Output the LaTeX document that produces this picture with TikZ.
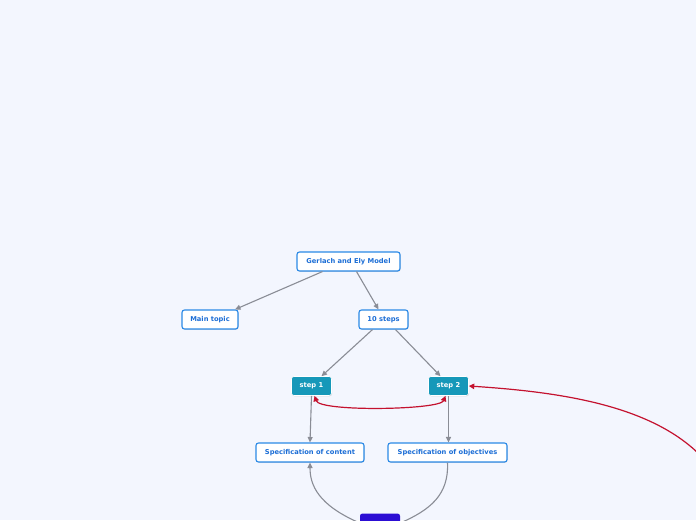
\documentclass[tikz,border=0pt]{standalone}
\usepackage{fontspec}
\setmainfont{DejaVu Sans}
\usetikzlibrary{arrows.meta,shadows}
\definecolor{bg}{HTML}{F3F6FE}
\definecolor{txtblue}{HTML}{1C6ED6}
\definecolor{bordblue}{HTML}{2A89E6}
\definecolor{tealf}{HTML}{1698B9}
\definecolor{deepblue}{HTML}{2C0ED4}
\definecolor{redc}{HTML}{C4122F}
\definecolor{grayc}{HTML}{8A8D96}
\tikzset{
  topic/.style={draw=bordblue, line width=1.1pt, fill=white, rounded corners=2.5pt,
    text=txtblue, font=\fontsize{6.7}{7}\selectfont\bfseries, inner sep=0pt,
    minimum height=19pt, drop shadow={shadow xshift=0.6pt, shadow yshift=-0.8pt, opacity=0.25}},
  stepbox/.style={draw=white, line width=0.6pt, fill=tealf, rounded corners=2.5pt,
    text=white, font=\fontsize{6.7}{7}\selectfont\bfseries, inner sep=0pt,
    minimum width=40pt, minimum height=19pt, drop shadow={shadow xshift=0.6pt, shadow yshift=-0.8pt, opacity=0.25}},
  conn/.style={draw=grayc, line width=1.1pt, -{Triangle[length=5.5pt,width=5pt]}},
  redconn/.style={draw=redc, line width=1.2pt},
}
\begin{document}
\begin{tikzpicture}[x=1pt,y=-1pt]
\fill[bg] (0,0) rectangle (696,520);
\useasboundingbox (0,0) rectangle (696,520);
\node[topic, minimum width=103pt] (gem) at (348.5,261.5) {Gerlach and Ely Model};
\node[topic, minimum width=56pt] (main) at (210,319.5) {Main topic};
\node[topic, minimum width=49pt] (ten) at (383.5,319.5) {10 steps};
\node[stepbox] (s1) at (311.5,386) {step 1};
\node[stepbox] (s2) at (448.5,386) {step 2};
\node[topic, minimum width=108pt] (sc) at (310,452.5) {Specification of content};
\node[topic, minimum width=119pt] (so) at (447.5,452.5) {Specification of objectives};
\node[draw=none, fill=deepblue, rounded corners=2.5pt, minimum width=40pt, minimum height=19pt, inner sep=0pt] (bb) at (380,523) {};
\coordinate (offr) at (700,455);

\draw[conn] ([xshift=-26pt]gem.south) -- ([xshift=25pt]main.north);
\draw[conn] ([xshift=8pt]gem.south) -- ([xshift=-5pt]ten.north);
\draw[conn] ([xshift=-11pt]ten.south) -- ([xshift=10pt]s1.north);
\draw[conn] ([xshift=12pt]ten.south) -- ([xshift=-8pt]s2.north);
\draw[conn] (s1.south) -- (sc.north);
\draw[conn] (s2.south) -- ([xshift=1pt]so.north);
\draw[conn] (bb.west) .. controls (318,505) and (310,485) .. (sc.south);
\draw[draw=grayc, line width=1.1pt] (so.south) .. controls (449,495) and (430,510) .. (bb.east);
\draw[redconn, {Triangle[length=5.5pt,width=5.5pt]}-{Triangle[length=5.5pt,width=5.5pt]}] ([xshift=3pt]s1.south) .. controls (320,412) and (440,410) .. ([xshift=-3pt]s2.south);
\draw[redconn, -{Triangle[length=5.5pt,width=5.5pt]}] (offr) .. controls (650,405) and (560,392) .. (s2.east);
\end{tikzpicture}
\end{document}
